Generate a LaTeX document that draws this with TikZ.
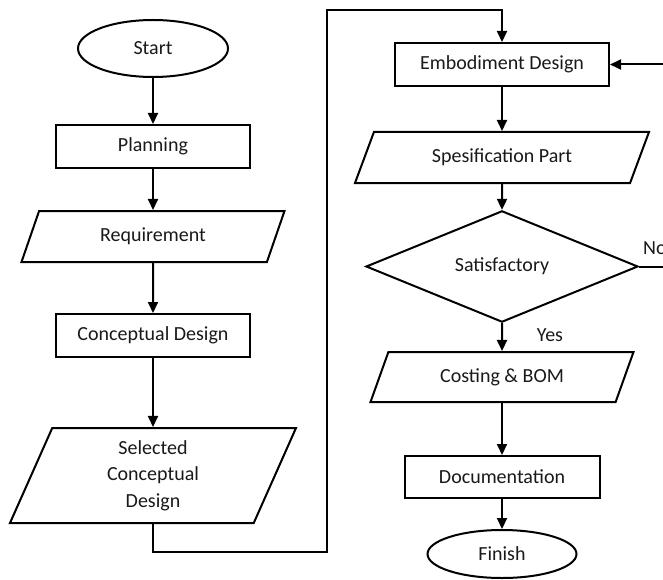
\documentclass[tikz,border=0pt]{standalone}
\usepackage{fontspec}
\setmainfont{Carlito}
\usetikzlibrary{shapes.geometric}
\usetikzlibrary{arrows.meta}

\begin{document}
\begin{tikzpicture}[x=1pt,y=-1pt,
        every node/.style={font=\fontsize{20}{26.5}\selectfont,inner sep=0pt,text=black!90},
        box/.style={draw,line width=2pt,rectangle,minimum width=194pt,minimum height=43pt},
        term/.style={draw,line width=2pt,ellipse,minimum width=150pt,minimum height=57pt},
        io/.style={draw,line width=2pt,trapezium,trapezium stretches body,
            trapezium left angle=#1,trapezium right angle={180-#1},minimum height=51pt},
        decide/.style={draw,line width=2pt,diamond,minimum width=272pt,minimum height=83pt},
        flow/.style={line width=2pt,-{Triangle[length=11pt,width=10pt]}}]
                \useasboundingbox (0,0) rectangle (663,580);
                % left column
                \node[term] (start) at (153,48.5) {Start};
                \node[box] (plan) at (153,146.5) {Planning};
                \node[io=44,minimum width=263pt] (req) at (153,236.5) {Requirement};
                \node[box] (concept) at (153,335.5) {Conceptual Design};
                \node[io=59,minimum width=286pt,minimum height=95pt,align=center] (sel) at (153,475.5) {Selected\\Conceptual\\Design};
                % right column
                \node[box,minimum width=214pt] (embo) at (502,64.5) {Embodiment Design};
                \node[io=42,minimum width=294pt] (spec) at (502,157.5) {Spesification Part};
                \node[decide] (sat) at (502,266.5) {Satisfactory};
                \node[io=44,minimum width=263pt,minimum height=50pt] (cost) at (502,377) {Costing \& BOM};
                \node[box,minimum width=195pt,minimum height=42pt] (doc) at (502,477) {Documentation};
                \node[term,minimum width=149pt,minimum height=48pt] (finish) at (502,554) {Finish};
                \node[anchor=west] (no) at (643,248) {No};
                \node (yes) at (550,335) {Yes};
                \coordinate (c1) at (327,552);
                \coordinate (c2) at (327,10);
                \coordinate (fb) at (690,266.5);
                \draw[flow] (start) -- (plan);
                \draw[flow] (plan) -- (req);
                \draw[flow] (req) -- (concept);
                \draw[flow] (concept) -- (sel);
                \draw[flow] (sel.south) |- (c1) -- (c2) -| (embo.north);
                \draw[flow] (embo) -- (spec);
                \draw[flow] (spec) -- (sat);
                \draw[flow] (sat) -- (cost);
                \draw[flow] (cost) -- (doc);
                \draw[flow] (doc) -- (finish);
                \draw[flow] (sat.east) -- (fb) |- (embo.east);
            \end{tikzpicture}
\end{document}
